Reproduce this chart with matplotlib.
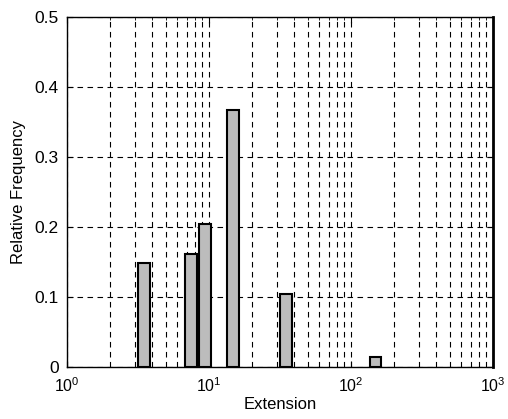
import numpy as np
import matplotlib
matplotlib.use('Agg')
import matplotlib.pyplot as plt
from matplotlib.ticker import LogLocator, FixedLocator

# bin centres (extension) and relative frequencies
extension = [3.5, 7.5, 9.4, 14.7, 35.0, 149.0]
rel_freq = [0.148, 0.162, 0.205, 0.368, 0.104, 0.014]

yticks = [0, 0.1, 0.2, 0.3, 0.4, 0.5]
ytick_labels = ['0', '0.1', '0.2', '0.3', '0.4', '0.5']

plt.rcParams['font.family'] = ['Liberation Sans', 'DejaVu Sans']
plt.rcParams['mathtext.fontset'] = 'custom'
plt.rcParams['mathtext.rm'] = 'Liberation Sans'
plt.rcParams['mathtext.default'] = 'regular'

fig = plt.figure(figsize=(5.08, 4.19), dpi=100)
ax = fig.add_axes([0.132, 0.124, 0.838, 0.835])

# bars have equal width in log space
logw = 0.082
x = np.array(extension)
left = x * 10 ** (-logw / 2)
right = x * 10 ** (logw / 2)
ax.bar(left, rel_freq, width=right - left, align='edge',
       facecolor='#bcbcbc', edgecolor='black', linewidth=1.5, zorder=3)

ax.set_xscale('log')
ax.set_xlim(1, 1000)
ax.set_ylim(0, 0.5)
ax.xaxis.set_major_locator(LogLocator(base=10, numticks=10))
ax.xaxis.set_minor_locator(LogLocator(base=10, subs=np.arange(2, 10), numticks=20))
ax.yaxis.set_major_locator(FixedLocator(yticks))
ax.set_yticklabels(ytick_labels)

ax.grid(True, which='both', axis='x', linestyle=(0, (5, 4)), color='black', linewidth=0.8)
ax.grid(True, which='major', axis='y', linestyle=(0, (5, 4)), color='black', linewidth=0.8)
ax.set_axisbelow(True)

ax.tick_params(which='both', direction='in', top=True, right=True)
ax.tick_params(axis='y', labelsize=12.5, pad=6)
ax.tick_params(axis='x', labelsize=11.5, pad=7)
ax.tick_params(which='major', length=4)
ax.tick_params(which='minor', length=2)
for s in ax.spines.values():
    s.set_linewidth(1.0)
ax.spines['right'].set_linewidth(2.0)

ax.set_xlabel('Extension', fontsize=12, labelpad=1)
ax.set_ylabel('Relative Frequency', fontsize=12, labelpad=6)

fig.savefig('out.png', dpi=100)
